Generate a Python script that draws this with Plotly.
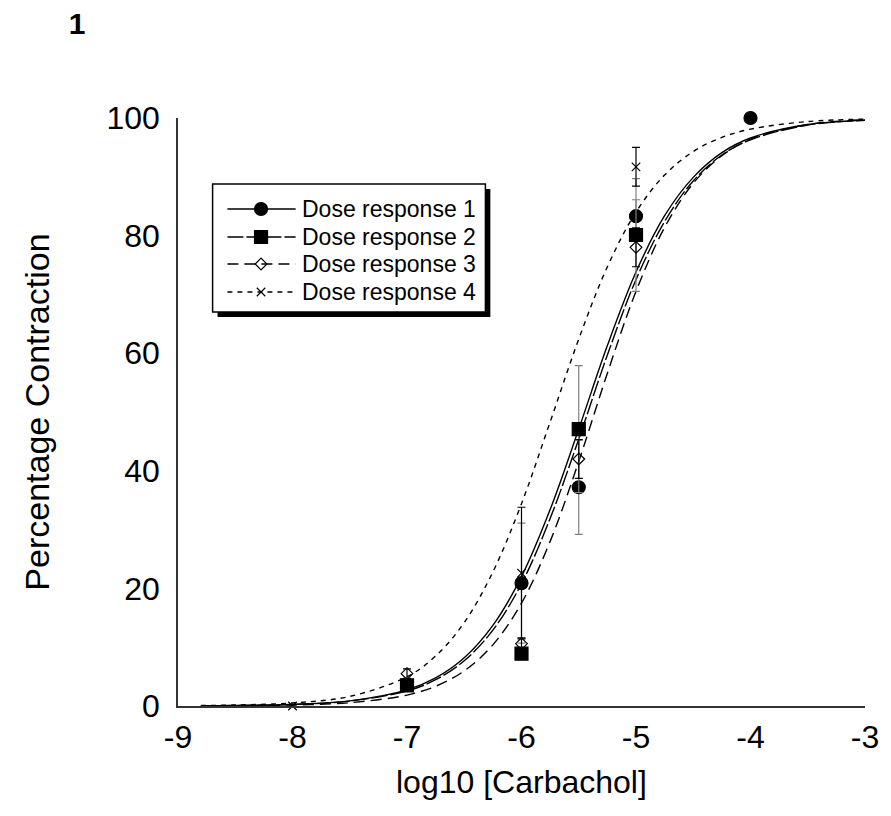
import plotly.graph_objects as go

# ---- data -------------------------------------------------------------
# fitted dose-response curves, sampled along log10 concentration
curve_x = [-8.8, -8.5, -8.0, -7.5, -7.0, -6.75, -6.5, -6.25, -6.0, -5.75,
           -5.5, -5.25, -5.0, -4.75, -4.5, -4.25, -4.0, -3.5, -3.0]
fit_1 = [0.05, 0.09, 0.28, 0.88, 2.74, 4.77, 8.19, 13.7, 22.0, 33.4,
         47.1, 61.3, 73.8, 83.4, 89.9, 94.1, 96.6, 98.9, 99.6]
fit_2 = [0.04, 0.08, 0.26, 0.83, 2.56, 4.47, 7.7, 12.9, 20.8, 31.9,
         45.4, 59.7, 72.5, 82.4, 89.3, 93.7, 96.3, 98.8, 99.6]
fit_3 = [0.02, 0.05, 0.17, 0.56, 1.86, 3.36, 5.97, 10.4, 17.5, 28.0,
         41.6, 56.6, 70.5, 81.4, 88.9, 93.6, 96.4, 98.9, 99.7]
fit_4 = [0.08, 0.17, 0.52, 1.63, 4.98, 8.5, 14.2, 22.8, 34.4, 48.3,
         62.4, 74.7, 84.0, 90.3, 94.3, 96.7, 98.1, 99.4, 99.8]

# measured responses (mean and error)
dose_1 = [-6.0, -5.5, -5.0, -4.0]
resp_1 = [20.9, 37.2, 83.3, 100.0]
err_1 = [10.2, 8.0, 2.8, 0.0]

dose_2 = [-7.0, -6.0, -5.5, -5.0]
resp_2 = [3.5, 8.9, 47.1, 80.1]
err_2 = [0.8, 1.0, 10.8, 9.6]

dose_3 = [-7.0, -6.0, -5.5, -5.0]
resp_3 = [5.5, 10.6, 42.0, 78.0]
err_3 = [0.8, 1.0, 3.3, 3.3]

dose_4 = [-8.0, -6.0, -5.0]
resp_4 = [0.0, 22.6, 91.7]
err_4 = [0.0, 11.2, 3.3]

series_names = ["Dose response 1", "Dose response 2",
                "Dose response 3", "Dose response 4"]
x_ticks = [-9, -8, -7, -6, -5, -4, -3]
x_tick_text = ["-9", "-8", "-7", "-6", "-5", "-4", "-3"]
y_ticks = [0, 20, 40, 60, 80, 100]

# ---- styling ----------------------------------------------------------
FONT = "Liberation Sans, Arial, sans-serif"
W, H = 891, 816
ML, MR, MT, MB = 178, 18, 118, 110
PW, PH = W - ML - MR, H - MT - MB

dashes = ["solid", "16px,3px", "11px,6px", "5px,5px"]
symbols = ["circle", "square", "diamond-open", "x-thin"]
sizes = [13, 13, 9, 8.5]
err_colors = ["#808080", "#808080", "#000000", "#000000"]
fits = [fit_1, fit_2, fit_3, fit_4]
doses = [dose_1, dose_2, dose_3, dose_4]
resps = [resp_1, resp_2, resp_3, resp_4]
errs = [err_1, err_2, err_3, err_4]

fig = go.Figure()

for i in range(4):
    fig.add_trace(go.Scatter(
        x=curve_x, y=fits[i], mode="lines", line_shape="spline",
        line=dict(color="black", width=1.4, dash=dashes[i]),
        hoverinfo="skip", showlegend=False))

for i in range(4):
    fig.add_trace(go.Scatter(
        x=doses[i], y=resps[i], mode="markers", name=series_names[i],
        marker=dict(symbol=symbols[i], size=sizes[i], color="black",
                    line=dict(color="black", width=1.2)),
        error_y=dict(type="data", array=errs[i], visible=True,
                     color=err_colors[i], thickness=1.2, width=4),
        cliponaxis=False, showlegend=False))

# ---- legend (drawn on an overlay pixel axis) -------------------------
box_l, box_r, box_t, box_b = 35, 311, 66, 194
row_y = [91, 119, 146, 174]
line_l, line_r, mark_x, text_x = 50, 119, 84, 123
shadow = 5

fig.add_shape(type="rect", xref="x2", yref="y2",
              x0=box_l + shadow, x1=box_r + shadow,
              y0=box_t + shadow, y1=box_b + shadow,
              fillcolor="black", line=dict(width=0), layer="below")
fig.add_shape(type="rect", xref="x2", yref="y2",
              x0=box_l, x1=box_r, y0=box_t, y1=box_b,
              fillcolor="white", line=dict(color="black", width=1.5),
              layer="below")

for i in range(4):
    fig.add_trace(go.Scatter(
        x=[line_l, line_r], y=[row_y[i], row_y[i]], xaxis="x2", yaxis="y2",
        mode="lines", line=dict(color="black", width=1.4, dash=dashes[i]),
        hoverinfo="skip", showlegend=False))
    fig.add_trace(go.Scatter(
        x=[mark_x], y=[row_y[i]], xaxis="x2", yaxis="y2", mode="markers",
        marker=dict(symbol=symbols[i], size=sizes[i], color="black",
                    line=dict(color="black", width=1.2)),
        hoverinfo="skip", showlegend=False))
    fig.add_annotation(x=text_x, y=row_y[i], xref="x2", yref="y2",
                       text=series_names[i], showarrow=False,
                       xanchor="left", yanchor="middle",
                       font=dict(family=FONT, size=23, color="black"))

axis_common = dict(showgrid=False, zeroline=False, showline=True,
                   linecolor="#333333", linewidth=1.5, ticks="",
                   ticklabeloverflow="allow",
                   tickfont=dict(family=FONT, size=32, color="black"))

# axis titles placed as annotations below / left of the plot area
fig.add_annotation(text="log10 [Carbachol]", xref="paper", yref="paper",
                   x=0.5, y=-(782 - (H - MB)) / PH, xanchor="center",
                   yanchor="middle", showarrow=False,
                   font=dict(family=FONT, size=32, color="black"))
fig.add_annotation(text="Percentage Contraction", xref="paper",
                   yref="paper", x=-(ML - 35) / PW, y=0.5, textangle=-90,
                   xanchor="center", yanchor="middle", showarrow=False,
                   font=dict(family=FONT, size=34, color="black"))

fig.update_layout(
    width=W, height=H, autosize=False,
    margin=dict(l=ML, r=MR, t=MT, b=MB, pad=0),
    paper_bgcolor="white", plot_bgcolor="white",
    showlegend=False,
    title=dict(text="<b>1</b>", x=77 / W, xanchor="center",
               y=1 - 23 / H, yanchor="middle",
               font=dict(family=FONT, size=30, color="black")),
    xaxis=dict(range=[-9, -3], tickvals=x_ticks, ticktext=x_tick_text,
               ticklabelstandoff=2, **axis_common),
    yaxis=dict(range=[0, 100], tickvals=y_ticks, ticklabelstandoff=10,
               **axis_common),
    xaxis2=dict(range=[0, PW], overlaying="x", visible=False,
                fixedrange=True),
    yaxis2=dict(range=[PH, 0], overlaying="y", anchor="x2", visible=False,
                fixedrange=True),
)

fig.write_html("out.html")
